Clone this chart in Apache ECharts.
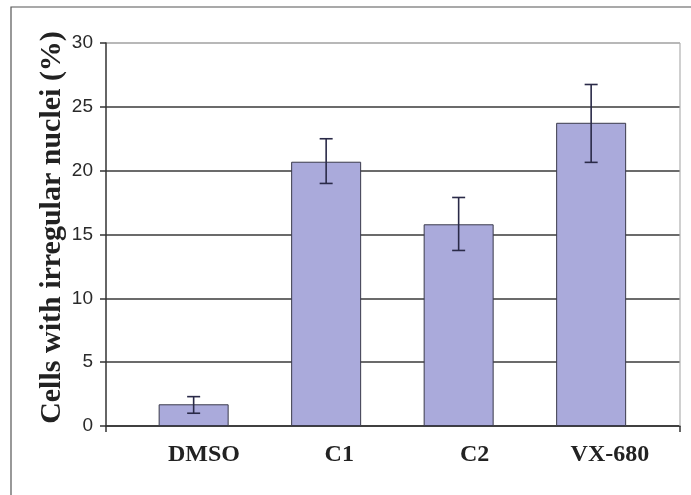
<!DOCTYPE html>
<html>
<head>
<meta charset="utf-8">
<script src="https://cdn.jsdelivr.net/npm/echarts@6/dist/echarts.min.js"></script>
<style>html,body{margin:0;padding:0;background:#fff;}#c{width:691px;height:495px;}</style>
</head>
<body>
<div id="c"></div>
<script>
const categories = ['DMSO', 'C1', 'C2', 'VX-680'];
const values = [1.7, 20.7, 15.8, 23.75];
const errLow = [1.0, 19.0, 13.75, 20.65];
const errHigh = [2.3, 22.5, 17.9, 26.75];
const yTicks = [0, 5, 10, 15, 20, 25, 30];
const yTitle = 'Cells with irregular nuclei (%)';

const chart = echarts.init(document.getElementById('c'), null, {renderer: 'canvas'});
const errData = categories.map((c, i) => [i, errLow[i], errHigh[i]]);
const serif = '"Liberation Serif", "Times New Roman", serif';

chart.setOption({
  animation: false,
  backgroundColor: '#fff',
  graphic: [
    {type: 'rect', shape: {x: 11, y: 7, width: 700, height: 520}, style: {fill: 'none', stroke: '#555', lineWidth: 1.2}, z: -10},
    {type: 'line', shape: {x1: 680, y1: 43, x2: 680, y2: 426}, style: {stroke: '#b0b0b0', lineWidth: 1.2}, z: 5}
  ],
  grid: [
    {left: 106, right: 11, top: 43, bottom: 69},
    {left: 127.4, width: 530, top: 43, bottom: 69},
    {left: 136.3, width: 541.3, top: 43, bottom: 69}
  ],
  xAxis: [
    {type: 'value', gridIndex: 0, min: 0, max: 1, interval: 1,
     axisLine: {show: true, lineStyle: {color: '#333', width: 1.5}},
     axisTick: {show: true, length: 6, lineStyle: {color: '#333', width: 1.5}},
     axisLabel: {show: false}, splitLine: {show: false}},
    {type: 'category', gridIndex: 1, data: categories,
     axisLine: {show: false}, axisTick: {show: false}, axisLabel: {show: false}},
    {type: 'category', gridIndex: 2, data: categories,
     axisLine: {show: false}, axisTick: {show: false},
     axisLabel: {fontFamily: serif, fontWeight: 'bold', fontSize: 24, color: '#222', margin: 17}}
  ],
  yAxis: [
    {type: 'value', gridIndex: 0, min: yTicks[0], max: yTicks[yTicks.length - 1], interval: 5,
     name: yTitle, nameLocation: 'middle', nameGap: 39, nameRotate: 90, nameMoveOverlap: false,
     nameTextStyle: {fontFamily: serif, fontWeight: 'bold', fontSize: 30, color: '#222', padding: [0, 0, 0, 14]},
     axisLine: {show: true, lineStyle: {color: '#333', width: 1.5}},
     axisTick: {show: true, length: 6, lineStyle: {color: '#333', width: 1.5}},
     axisLabel: {fontFamily: '"Liberation Sans", Arial, sans-serif', fontSize: 19, color: '#2a2a2a', margin: 13},
     splitLine: {show: true, lineStyle: {color: ['#3a3a3a', '#3a3a3a', '#3a3a3a', '#3a3a3a', '#3a3a3a', '#3a3a3a', '#a0a0a0'], width: 1.6}}},
    {type: 'value', gridIndex: 1, min: yTicks[0], max: yTicks[yTicks.length - 1], show: false, splitLine: {show: false}},
    {type: 'value', gridIndex: 2, min: yTicks[0], max: yTicks[yTicks.length - 1], show: false, splitLine: {show: false}}
  ],
  series: [
    {type: 'bar', xAxisIndex: 1, yAxisIndex: 1, data: values, barWidth: 70,
     itemStyle: {color: '#aaaadb', borderColor: '#3a3a4a', borderWidth: 1}, z: 3},
    {type: 'custom', xAxisIndex: 1, yAxisIndex: 1, data: errData, z: 10,
     renderItem: function (params, api) {
       const x = api.value(0);
       const lo = api.coord([x, api.value(1)]);
       const hi = api.coord([x, api.value(2)]);
       const w = 6.5;
       const st = {stroke: '#2a2a48', lineWidth: 1.6};
       return {type: 'group', children: [
         {type: 'line', shape: {x1: lo[0], y1: lo[1], x2: hi[0], y2: hi[1]}, style: st},
         {type: 'line', shape: {x1: lo[0] - w, y1: lo[1], x2: lo[0] + w, y2: lo[1]}, style: st},
         {type: 'line', shape: {x1: hi[0] - w, y1: hi[1], x2: hi[0] + w, y2: hi[1]}, style: st}
       ]};
     }}
  ]
});
</script>
</body>
</html>
